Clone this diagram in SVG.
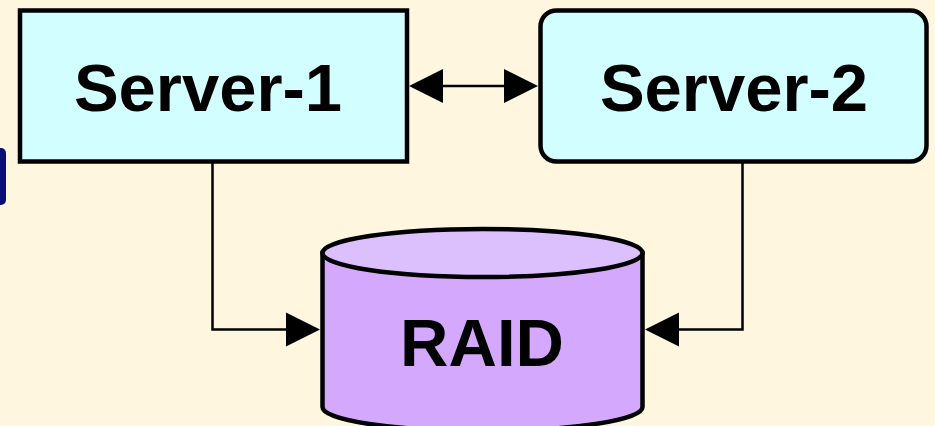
<svg xmlns="http://www.w3.org/2000/svg" width="935" height="426" viewBox="0 0 935 426">
  <defs>
    <style>
      .box { fill: #D3FEFF; stroke: #000; stroke-width: 4.5; }
      .lbl { font-family: "Liberation Sans", Arial, sans-serif; font-weight: bold; font-size: 67px; fill: #000; }
      .conn { fill: none; stroke: #000; stroke-width: 2.5; }
      .head { fill: #000; }
    </style>
  </defs>
  <rect x="0" y="0" width="935" height="426" fill="#FFF6E0"/>
  <rect x="-10" y="148" width="16" height="57" rx="5" fill="#0A0F78"/>
  <g id="connectors">
    <line class="conn" x1="442" y1="86" x2="505" y2="86"/>
    <polygon class="head" points="409,86 443,69 443,103"/>
    <polygon class="head" points="538,86 504,69 504,103"/>
    <polyline class="conn" points="212.5,163 212.5,329.5 287,329.5"/>
    <polygon class="head" points="320,329.5 286,312.5 286,346.5"/>
    <polyline class="conn" points="742.5,163 742.5,329.5 677,329.5"/>
    <polygon class="head" points="645,329.5 679,312.5 679,346.5"/>
  </g>
  <g id="server1">
    <rect class="box" x="20" y="10.5" width="387" height="151"/>
    <text class="lbl" x="208" y="111" text-anchor="middle">Server-1</text>
  </g>
  <g id="server2">
    <rect class="box" x="540.5" y="10.5" width="386" height="151" rx="16"/>
    <text class="lbl" x="734" y="111" text-anchor="middle">Server-2</text>
  </g>
  <g id="raid">
    <path d="M322.5,253 L322.5,407 A160,24 0 0 0 642.5,407 L642.5,253 Z" fill="#D4A9FD" stroke="#000" stroke-width="4.5"/>
    <ellipse cx="482.5" cy="253" rx="160" ry="24" fill="#DCC0FE" stroke="#000" stroke-width="4.5"/>
    <text class="lbl" x="482" y="366" text-anchor="middle">RAID</text>
  </g>
</svg>
